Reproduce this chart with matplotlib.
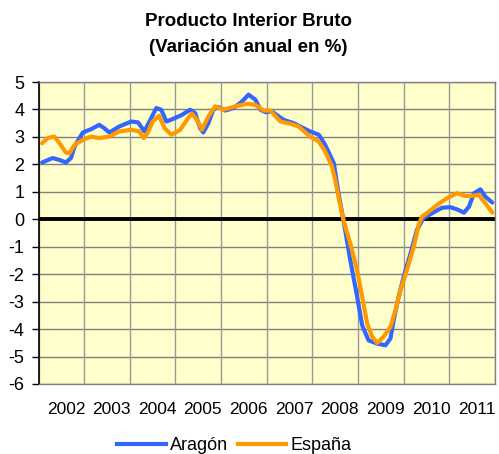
import matplotlib
matplotlib.use("Agg")
import matplotlib.pyplot as plt
from matplotlib.lines import Line2D

plt.rcParams['font.family'] = ['Liberation Sans', 'DejaVu Sans']

title_lines = ["Producto Interior Bruto", "(Variación anual en %)"]
years = [2002, 2003, 2004, 2005, 2006, 2007, 2008, 2009, 2010, 2011]
year_labels = [str(y) for y in years]
yticks = list(range(-6, 6))

aragon_x = [2002.08, 2002.31, 2002.46, 2002.60, 2002.71, 2002.79, 2002.97, 2003.15, 2003.33, 2003.44,
            2003.55, 2003.77, 2004.03, 2004.18, 2004.32, 2004.43, 2004.58, 2004.69, 2004.80, 2004.94,
            2005.14, 2005.32, 2005.43, 2005.54, 2005.61, 2005.72, 2005.83, 2005.94, 2006.09, 2006.27,
            2006.46, 2006.60, 2006.75, 2006.86, 2006.97, 2007.11, 2007.37, 2007.59, 2007.73, 2007.95,
            2008.14, 2008.28, 2008.47, 2008.57, 2008.68, 2008.73, 2008.83, 2008.98, 2009.09, 2009.23,
            2009.42, 2009.60, 2009.71, 2009.78, 2009.89, 2010.00, 2010.15, 2010.29, 2010.43, 2010.62,
            2010.84, 2011.02, 2011.17, 2011.32, 2011.43, 2011.54, 2011.68, 2011.79, 2011.94]
aragon_y = [2.07, 2.23, 2.16, 2.07, 2.23, 2.65, 3.16, 3.28, 3.44, 3.32,
            3.16, 3.38, 3.56, 3.53, 3.20, 3.56, 4.05, 3.99, 3.56, 3.65,
            3.80, 3.99, 3.87, 3.32, 3.16, 3.50, 3.99, 4.09, 3.96, 4.05,
            4.29, 4.54, 4.36, 3.99, 3.90, 3.93, 3.62, 3.50, 3.38, 3.20,
            3.08, 2.71, 2.04, 0.95, -0.03, -0.51, -1.49, -2.82, -3.86, -4.41,
            -4.53, -4.59, -4.34, -3.68, -2.82, -2.09, -1.24, -0.39, 0.04, 0.22,
            0.42, 0.44, 0.36, 0.24, 0.46, 0.95, 1.09, 0.82, 0.61]

espana_x = [2002.08, 2002.20, 2002.35, 2002.46, 2002.60, 2002.68, 2002.79, 2002.97, 2003.15, 2003.33,
            2003.55, 2003.77, 2004.03, 2004.21, 2004.30, 2004.39, 2004.50, 2004.64, 2004.76, 2004.91,
            2005.10, 2005.28, 2005.36, 2005.47, 2005.58, 2005.72, 2005.87, 2006.05, 2006.35, 2006.57,
            2006.75, 2006.93, 2007.08, 2007.30, 2007.52, 2007.70, 2007.95, 2008.14, 2008.28, 2008.43,
            2008.50, 2008.57, 2008.68, 2008.83, 2008.98, 2009.09, 2009.20, 2009.31, 2009.42, 2009.56,
            2009.71, 2009.82, 2009.93, 2010.07, 2010.22, 2010.33, 2010.40, 2010.51, 2010.73, 2010.95,
            2011.17, 2011.35, 2011.50, 2011.64, 2011.79, 2011.94]
espana_y = [2.77, 2.96, 3.01, 2.77, 2.43, 2.41, 2.71, 2.89, 3.01, 2.96,
            3.01, 3.20, 3.26, 3.20, 2.96, 3.14, 3.56, 3.77, 3.32, 3.08,
            3.25, 3.69, 3.85, 3.62, 3.26, 3.74, 4.11, 3.99, 4.13, 4.20,
            4.17, 3.96, 3.96, 3.56, 3.48, 3.38, 3.01, 2.83, 2.47, 1.92,
            1.43, 0.82, -0.03, -0.88, -1.85, -2.82, -3.80, -4.28, -4.50, -4.28,
            -3.92, -3.31, -2.58, -1.85, -1.00, -0.20, 0.10, 0.22, 0.52, 0.77,
            0.95, 0.85, 0.85, 0.89, 0.58, 0.24]

blue = "#3366FF"
orange = "#FF9900"

fig = plt.figure(figsize=(4.99, 4.54), dpi=100)
ax = fig.add_axes([38.5 / 499, 1 - 384 / 454, (495 - 38.5) / 499, (384 - 82) / 454])
ax.set_facecolor("#FFFFCC")

ax.set_xlim(2002, 2012)
ax.set_ylim(-6, 5)

# grid
for yv in yticks:
    ax.axhline(yv, color="#808080", lw=1.0, zorder=1)
for xv in range(2002, 2013):
    ax.axvline(xv, color="#999999", lw=1.0, zorder=1)
ax.axhline(0, color="black", lw=2.8, zorder=2)

ax.plot(aragon_x, aragon_y, color=blue, lw=3.0, zorder=3, solid_joinstyle="round", solid_capstyle="round")
ax.plot(espana_x, espana_y, color=orange, lw=3.0, zorder=4, solid_joinstyle="round", solid_capstyle="round")

ax.set_yticks(yticks)
ax.set_yticklabels([str(v) for v in yticks], fontsize=13)
ax.tick_params(axis="y", direction="out", length=5, width=1, color="black", pad=5)

ax.set_xticks([y + 0.6 for y in years])
ax.set_xticklabels(year_labels, fontsize=12.5)
ax.tick_params(axis="x", length=0, pad=13)

for side in ["top", "right", "bottom"]:
    ax.spines[side].set_color("#808080")
    ax.spines[side].set_linewidth(1.0)
ax.spines["left"].set_color("black")
ax.spines["left"].set_linewidth(1.2)

fig.text(0.497, 1 - 22 / 454, title_lines[0], ha="center", va="center", fontsize=13.5, fontweight="bold")
fig.text(0.497, 1 - 47 / 454, title_lines[1], ha="center", va="center", fontsize=13.5, fontweight="bold")

handles = [Line2D([0], [0], color=blue, lw=3), Line2D([0], [0], color=orange, lw=3)]
fig.legend(handles, ["Aragón", "España"], loc="center", bbox_to_anchor=(0.47, 1 - 446 / 454),
           ncol=2, frameon=False, fontsize=13, handlelength=2.7, handletextpad=0.25,
           columnspacing=0.5, borderpad=0)

fig.savefig("out.png", dpi=100)
